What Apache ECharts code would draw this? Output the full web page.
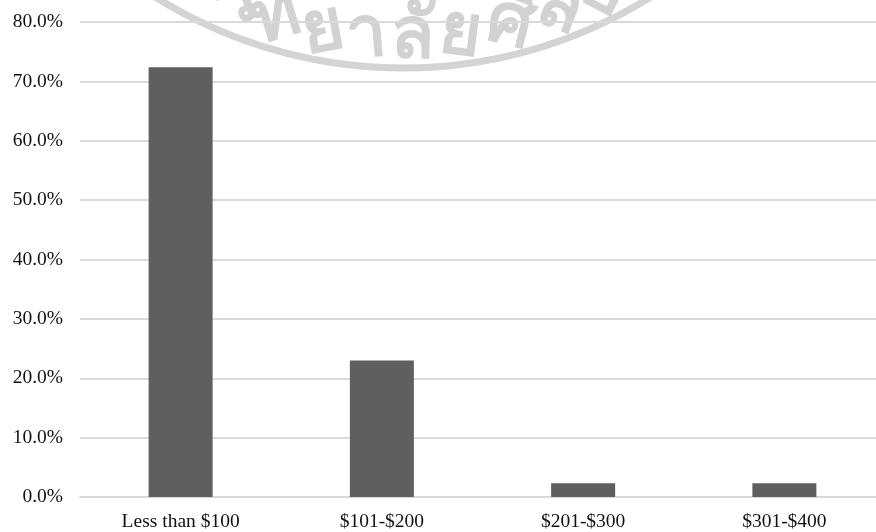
<!DOCTYPE html>
<html>
<head>
<meta charset="utf-8">
<script src="https://cdn.jsdelivr.net/npm/echarts@6/dist/echarts.min.js"></script>
<style>
  html, body { margin: 0; padding: 0; background: #fff; overflow: hidden; }
  #wrap { width: 876px; height: 532px; overflow: hidden; }
  /* plot runs slightly past the right edge, so the canvas is a little wider than the view */
  #chart { width: 885px; height: 532px; }
</style>
</head>
<body>
<div id="wrap"><div id="chart"></div></div>
<script>
// Monthly spending brackets and share of respondents (%)
const categories = ['Less than $100', '$101-$200', '$201-$300', '$301-$400'];
const shares = [72.4, 23.0, 2.3, 2.3];
const yMin = 0, yMax = 80, yStep = 10;

// Faint seal in the background: a ring with Thai lettering along it
const sealText = ['ว', 'ท', 'ย', 'า', 'ลั', 'ย', 'ศิ', 'ล', 'ป'];
const sealX = [235, 275, 323, 366, 412, 460, 510, 560, 603];

const textFont = '"Liberation Serif", "Times New Roman", serif';

function sealGraphics() {
  const cx = 403, cy = -400;
  const ringR = 468, textR = 437;
  const items = [{
    type: 'arc',
    z: -10,
    silent: true,
    shape: { cx: cx, cy: cy, r: ringR, startAngle: 0.98, endAngle: 2.17 },
    style: { stroke: '#d4d4d4', lineWidth: 7, fill: null }
  }];
  sealText.forEach((ch, i) => {
    const x = sealX[i];
    const dx = x - cx;
    const y = cy + Math.sqrt(textR * textR - dx * dx);
    const theta = Math.asin(dx / textR);
    items.push({
      type: 'text',
      z: -10,
      silent: true,
      x: x, y: y,
      rotation: -theta,
      style: {
        text: ch,
        font: 'bold 72px "Noto Sans", "DejaVu Sans", sans-serif',
        fill: '#d2d2d2',
        align: 'center',
        verticalAlign: 'middle'
      }
    });
  });
  return items;
}

const chart = echarts.init(document.getElementById('chart'), null, { renderer: 'canvas' });
chart.setOption({
  animation: false,
  backgroundColor: '#ffffff',
  graphic: sealGraphics(),
  grid: { left: 80, top: 22, right: 0, height: 475, containLabel: false },
  xAxis: {
    type: 'category',
    data: categories,
    axisTick: { show: false },
    axisLine: { lineStyle: { color: '#d9d9d9', width: 2 } },
    axisLabel: { color: '#111', fontFamily: textFont, fontSize: 19.5, margin: 15 }
  },
  yAxis: {
    type: 'value',
    min: yMin, max: yMax, interval: yStep,
    axisLine: { show: false },
    axisTick: { show: false },
    splitLine: { lineStyle: { color: '#d9d9d9', width: 2 } },
    axisLabel: {
      color: '#111', fontFamily: textFont, fontSize: 19.5, margin: 17,
      formatter: v => v.toFixed(1) + '%'
    }
  },
  series: [{
    type: 'bar',
    data: shares,
    barWidth: 64,
    itemStyle: { color: '#5f5f5f' }
  }]
});
</script>
</body>
</html>
